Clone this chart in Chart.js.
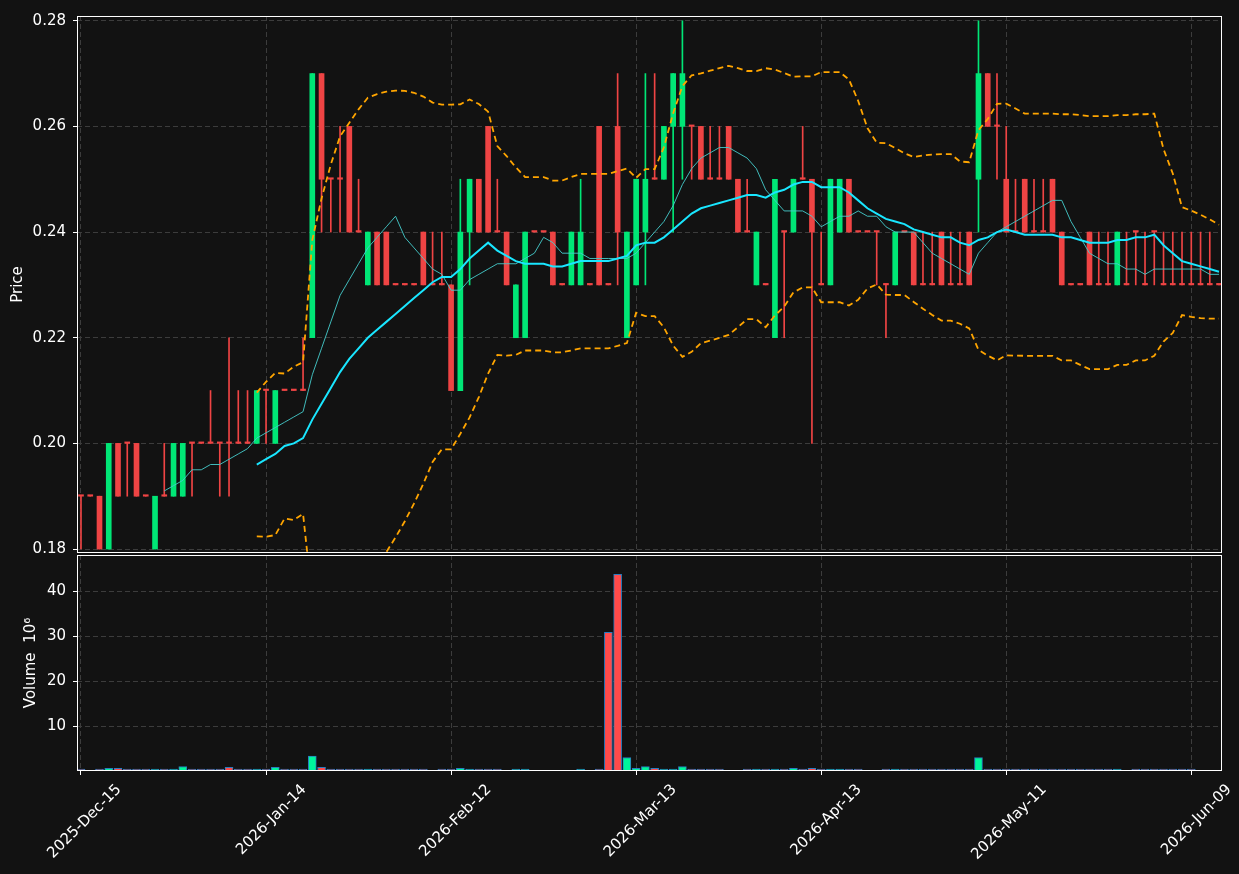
<!doctype html>
<html lang="en">
<head>
    <meta charset="utf-8">
    <title>Price and volume</title>
    <script src="https://cdn.jsdelivr.net/npm/chart.js@4.4.1/dist/chart.umd.min.js"></script>
    <style>
        body { margin: 0; background: #121212; }
        #wrap { position: relative; width: 1239px; height: 874px; }
        #wrap canvas { position: absolute; left: 0; top: 0; }
    </style>
</head>
<body>
<div id="wrap">
    <canvas id="priceChart" width="1239" height="874"></canvas>
    <canvas id="volumeChart" width="1239" height="874"></canvas>
</div>

<script>
    // one entry per trading day, Dec 15 2025 -> mid June 2026
    const opens = [
        0.19, 0.19, 0.19, 0.18, 0.20, 0.20, 0.20, 0.19, 0.18, 0.19,
        0.19, 0.19, 0.20, 0.20, 0.20, 0.20, 0.20, 0.20, 0.20, 0.20,
        0.21, 0.20, 0.21, 0.21, 0.21, 0.22, 0.27, 0.25, 0.25, 0.26,
        0.24, 0.23, 0.24, 0.24, 0.23, 0.23, 0.23, 0.24, 0.23, 0.23,
        0.23, 0.21, 0.24, 0.25, 0.26, 0.24, 0.24, 0.22, 0.22, 0.24,
        0.24, 0.24, 0.23, 0.23, 0.23, 0.23, 0.26, 0.23, 0.26, 0.22,
        0.23, 0.24, 0.25, 0.25, 0.26, 0.26, 0.26, 0.26, 0.25, 0.25,
        0.26, 0.25, 0.24, 0.23, 0.23, 0.22, 0.24, 0.24, 0.25, 0.25,
        0.23, 0.23, 0.24, 0.25, 0.24, 0.24, 0.24, 0.23, 0.23, 0.24,
        0.24, 0.23, 0.23, 0.24, 0.23, 0.23, 0.24, 0.25, 0.27, 0.26,
        0.25, 0.24, 0.25, 0.24, 0.24, 0.25, 0.24, 0.23, 0.23, 0.24,
        0.23, 0.23, 0.23, 0.23, 0.24, 0.23, 0.24, 0.23, 0.23, 0.23,
        0.23, 0.23, 0.23, 0.23
    ];
    const highs = [
        0.19, 0.19, 0.19, 0.20, 0.20, 0.20, 0.20, 0.19, 0.19, 0.20,
        0.20, 0.20, 0.20, 0.20, 0.21, 0.20, 0.22, 0.21, 0.21, 0.21,
        0.21, 0.21, 0.21, 0.21, 0.22, 0.27, 0.27, 0.25, 0.26, 0.26,
        0.25, 0.24, 0.24, 0.24, 0.23, 0.23, 0.23, 0.24, 0.24, 0.24,
        0.23, 0.25, 0.25, 0.25, 0.26, 0.25, 0.24, 0.23, 0.24, 0.24,
        0.24, 0.24, 0.23, 0.24, 0.25, 0.23, 0.26, 0.23, 0.27, 0.24,
        0.25, 0.27, 0.27, 0.26, 0.27, 0.28, 0.26, 0.26, 0.26, 0.26,
        0.26, 0.25, 0.25, 0.24, 0.23, 0.25, 0.24, 0.25, 0.26, 0.25,
        0.24, 0.25, 0.25, 0.25, 0.24, 0.24, 0.24, 0.23, 0.24, 0.24,
        0.24, 0.24, 0.24, 0.24, 0.24, 0.24, 0.24, 0.28, 0.27, 0.27,
        0.26, 0.25, 0.25, 0.25, 0.25, 0.25, 0.24, 0.23, 0.23, 0.24,
        0.24, 0.24, 0.24, 0.24, 0.24, 0.24, 0.24, 0.24, 0.24, 0.24,
        0.24, 0.24, 0.24, 0.23
    ];
    const lows = [
        0.18, 0.19, 0.18, 0.18, 0.19, 0.19, 0.19, 0.19, 0.18, 0.19,
        0.19, 0.19, 0.19, 0.20, 0.20, 0.19, 0.19, 0.20, 0.20, 0.20,
        0.20, 0.20, 0.21, 0.21, 0.21, 0.22, 0.24, 0.24, 0.24, 0.24,
        0.24, 0.23, 0.23, 0.23, 0.23, 0.23, 0.23, 0.23, 0.23, 0.23,
        0.21, 0.21, 0.23, 0.24, 0.24, 0.24, 0.23, 0.22, 0.22, 0.24,
        0.24, 0.23, 0.23, 0.23, 0.23, 0.23, 0.23, 0.23, 0.23, 0.22,
        0.23, 0.23, 0.25, 0.25, 0.24, 0.25, 0.25, 0.25, 0.25, 0.25,
        0.25, 0.24, 0.24, 0.23, 0.23, 0.22, 0.22, 0.24, 0.25, 0.20,
        0.23, 0.23, 0.24, 0.24, 0.24, 0.24, 0.23, 0.22, 0.23, 0.24,
        0.23, 0.23, 0.23, 0.23, 0.23, 0.23, 0.23, 0.24, 0.26, 0.25,
        0.24, 0.24, 0.24, 0.24, 0.24, 0.24, 0.23, 0.23, 0.23, 0.23,
        0.23, 0.23, 0.23, 0.23, 0.23, 0.23, 0.23, 0.23, 0.23, 0.23,
        0.23, 0.23, 0.23, 0.23
    ];
    const closes = [
        0.19, 0.19, 0.18, 0.20, 0.19, 0.20, 0.19, 0.19, 0.19, 0.19,
        0.20, 0.20, 0.20, 0.20, 0.20, 0.20, 0.20, 0.20, 0.20, 0.21,
        0.21, 0.21, 0.21, 0.21, 0.21, 0.27, 0.25, 0.25, 0.25, 0.24,
        0.24, 0.24, 0.23, 0.23, 0.23, 0.23, 0.23, 0.23, 0.23, 0.23,
        0.21, 0.24, 0.25, 0.24, 0.24, 0.24, 0.23, 0.23, 0.24, 0.24,
        0.24, 0.23, 0.23, 0.24, 0.24, 0.23, 0.23, 0.23, 0.24, 0.24,
        0.25, 0.25, 0.25, 0.26, 0.27, 0.27, 0.26, 0.25, 0.25, 0.25,
        0.25, 0.24, 0.24, 0.24, 0.23, 0.25, 0.24, 0.25, 0.25, 0.24,
        0.23, 0.25, 0.25, 0.24, 0.24, 0.24, 0.24, 0.23, 0.24, 0.24,
        0.23, 0.23, 0.23, 0.23, 0.23, 0.23, 0.23, 0.27, 0.26, 0.26,
        0.24, 0.24, 0.24, 0.24, 0.24, 0.24, 0.23, 0.23, 0.23, 0.23,
        0.23, 0.23, 0.24, 0.23, 0.24, 0.23, 0.24, 0.23, 0.23, 0.23,
        0.23, 0.23, 0.23, 0.23
    ];
    // volume in millions
    const volumes = [
        0.4, 0, 0.15, 0.6, 0.6, 0.15, 0.4, 0.15, 0.15, 0.15,
        0.4, 1.0, 0.15, 0.4, 0.4, 0.15, 0.8, 0.15, 0.15, 0.15,
        0.15, 0.8, 0.4, 0.4, 0.15, 3.3, 0.8, 0.15, 0.15, 0.4,
        0.15, 0.15, 0.15, 0.15, 0.15, 0.15, 0.15, 0.15, 0, 0.15,
        0.15, 0.6, 0.15, 0.15, 0.15, 0.15, 0, 0.15, 0.15, 0,
        0, 0, 0, 0, 0.15, 0, 0.15, 30.8, 43.7, 3.0,
        0.6, 1.0, 0.6, 0.4, 0.4, 1.0, 0.15, 0.15, 0.4, 0.15,
        0, 0, 0.15, 0.15, 0.15, 0.4, 0.4, 0.6, 0.15, 0.6,
        0.15, 0.4, 0.15, 0.15, 0.15, 0, 0, 0.15, 0.4, 0.15,
        0.15, 0.15, 0.4, 0.15, 0.15, 0.15, 0.15, 3.0, 0.15, 0.15,
        0.15, 0.15, 0.15, 0.15, 0.15, 0.15, 0.15, 0.15, 0.15, 0.15,
        0.15, 0.15, 0.15, 0, 0.15, 0.15, 0.4, 0.15, 0.15, 0.15,
        0.15, 0, 0, 0
    ];
    const tickIndex = [0, 20, 40, 60, 80, 100, 120];
    const tickLabels = ['2025-Dec-15', '2026-Jan-14', '2026-Feb-12', '2026-Mar-13',
        '2026-Apr-13', '2026-May-11', '2026-Jun-09'];
    const priceTicks = [0.18, 0.20, 0.22, 0.24, 0.26, 0.28];
    const volumeTicks = [10, 20, 30, 40];
</script>

<script>
    Chart.defaults.font.family = "'DejaVu Sans', sans-serif";
    Chart.defaults.font.size = 15;
    Chart.defaults.color = '#ffffff';

    const UP = '#00e676', DOWN = '#ef4444';
    const VOL_UP = '#00f59b', VOL_DOWN = '#ff4a4a';

    const isUp = opens.map((o, i) => closes[i] > o);
    const candleColors = isUp.map(u => u ? UP : DOWN);
    const volColors = isUp.map(u => u ? VOL_UP : VOL_DOWN);

    // indicators, same as mplfinance mav=(10,20) plus 20 day bands
    function rollingMean(arr, w) {
        return arr.map((_, i) => {
            if (i < w - 1) return null;
            let s = 0;
            for (let k = i - w + 1; k <= i; k++) s += arr[k];
            return s / w;
        });
    }
    function rollingStd(arr, w) {
        const m = rollingMean(arr, w);
        return arr.map((_, i) => {
            if (m[i] === null) return null;
            let s = 0;
            for (let k = i - w + 1; k <= i; k++) s += (arr[k] - m[i]) ** 2;
            return Math.sqrt(s / (w - 1));
        });
    }
    const ma10 = rollingMean(closes, 10);
    const ma20 = rollingMean(closes, 20);
    const sd20 = rollingStd(closes, 20);
    const bbUp = ma20.map((m, i) => m === null ? null : m + 2 * sd20[i]);
    const bbLow = ma20.map((m, i) => m === null ? null : m - 2 * sd20[i]);

    const pts = arr => arr.map((v, i) => ({x: i, y: v}));

    const X_MIN = -0.432, X_MAX = 123.32;

    const frame = {
        id: 'frame',
        afterDraw(chart) {
            const {ctx, chartArea: a} = chart;
            ctx.save();
            ctx.strokeStyle = '#ffffff';
            ctx.lineWidth = 1;
            ctx.strokeRect(Math.round(a.left) + 0.5, Math.round(a.top) + 0.5,
                Math.round(a.right - a.left) - 1, Math.round(a.bottom - a.top) - 1);
            ctx.restore();
        }
    };

    const gridX = {color: '#3c3c3c', lineWidth: 1, drawTicks: false};
    const dashed = {display: false, dash: [5, 3]};

    const priceChart = new Chart(document.getElementById('priceChart'), {
        type: 'bar',
        data: {
            datasets: [
                {type: 'line', data: pts(ma20), borderColor: '#19e6ff', borderWidth: 2, pointRadius: 0, order: 0},
                {type: 'line', data: pts(ma10), borderColor: 'rgba(70,205,205,0.9)', borderWidth: 1, pointRadius: 0, order: 0},
                {type: 'line', data: pts(bbUp), borderColor: '#ffa500', borderWidth: 1.8, borderDash: [6, 4], pointRadius: 0, order: 0},
                {type: 'line', data: pts(bbLow), borderColor: '#ffa500', borderWidth: 1.8, borderDash: [6, 4], pointRadius: 0, order: 0},
                {
                    data: opens.map((o, i) => ({x: i, y: [o, closes[i]]})),
                    backgroundColor: candleColors, barThickness: 5, minBarLength: 1.5,
                    grouped: false, order: 1
                },
                {
                    data: lows.map((l, i) => ({x: i, y: [l, highs[i]]})),
                    backgroundColor: candleColors, barThickness: 1,
                    grouped: false, order: 2
                }
            ]
        },
        options: {
            responsive: false,
            animation: false,
            layout: {padding: {left: 0, right: 17, top: 12, bottom: 321}},
            plugins: {legend: {display: false}, tooltip: {enabled: false}},
            scales: {
                x: {
                    type: 'linear', min: X_MIN, max: X_MAX, offset: false,
                    grid: {...gridX, offset: false},
                    border: dashed,
                    ticks: {display: false},
                    afterBuildTicks: s => { s.ticks = tickIndex.map(v => ({value: v})); },
                    afterFit: s => { s.height = 0; }
                },
                y: {
                    min: 0.17925, max: 0.2809,
                    grid: {color: '#3c3c3c', tickColor: '#ffffff', tickLength: 4},
                    border: dashed,
                    ticks: {padding: 7, callback: v => v.toFixed(2)},
                    title: {display: true, text: 'Price', padding: {top: 9}},
                    afterBuildTicks: s => { s.ticks = priceTicks.map(v => ({value: v})); },
                    afterFit: s => { s.width = 77; }
                }
            }
        },
        plugins: [frame]
    });

    const volumeChart = new Chart(document.getElementById('volumeChart'), {
        type: 'bar',
        data: {
            datasets: [{
                data: volumes.map((v, i) => ({x: i, y: v > 0 ? v : null})),
                backgroundColor: volColors,
                borderColor: '#2a7cc0',
                borderWidth: 1,
                borderSkipped: false,
                barThickness: 8,
                minBarLength: 2,
                grouped: false
            }]
        },
        options: {
            responsive: false,
            animation: false,
            layout: {padding: {left: 0, right: 17, top: 555, bottom: 0}},
            plugins: {legend: {display: false}, tooltip: {enabled: false}},
            scales: {
                x: {
                    type: 'linear', min: X_MIN, max: X_MAX, offset: false,
                    grid: {color: '#3c3c3c', offset: false, tickColor: '#ffffff', tickLength: 4},
                    border: dashed,
                    ticks: {
                        autoSkip: false, minRotation: 45, maxRotation: 45, padding: 6,
                        labelOffset: 38,
                        callback: (v, i) => tickLabels[i]
                    },
                    afterBuildTicks: s => { s.ticks = tickIndex.map(v => ({value: v})); },
                    afterFit: s => { s.height = 103; }
                },
                y: {
                    min: 0, max: 48,
                    grid: {color: '#3c3c3c', tickColor: '#ffffff', tickLength: 4},
                    border: dashed,
                    ticks: {padding: 7},
                    title: {display: true, text: 'Volume  10\u2076', padding: {top: 22}},
                    afterBuildTicks: s => { s.ticks = volumeTicks.map(v => ({value: v})); },
                    afterFit: s => { s.width = 77; }
                }
            }
        },
        plugins: [frame]
    });
</script>
</body>
</html>
